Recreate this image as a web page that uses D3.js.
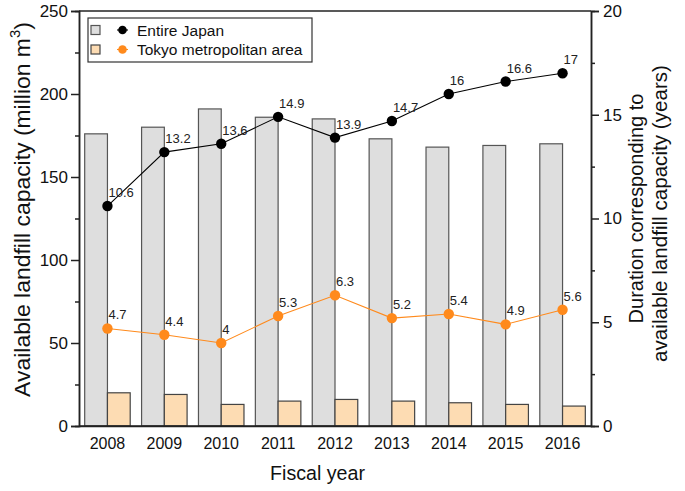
<!DOCTYPE html>
<html><head><meta charset="utf-8">
<script src="https://cdn.jsdelivr.net/npm/d3@7"></script>
<style>body{margin:0;background:#fff;} text{font-family:"Liberation Sans",Arial,sans-serif;}</style>
</head><body><svg id="c" width="685" height="491"></svg>
<script>
const years = ["2008","2009","2010","2011","2012","2013","2014","2015","2016"];
const capJapan = [176,180,191,186,185,173,168,169,170];
const capTokyo = [20,19,13,15,16,15,14,13,12];
const durJapan = [10.6,13.2,13.6,14.9,13.9,14.7,16,16.6,17];
const durTokyo = [4.7,4.4,4,5.3,6.3,5.2,5.4,4.9,5.6];
const leftTicks = [0,50,100,150,200,250];
const rightTicks = [0,5,10,15,20];

const svg = d3.select("#c");
const L=79, R=591, T=11, B=426;
const x = d3.scaleBand().domain(years).range([L,R]).padding(0);
const yL = d3.scaleLinear().domain([0,250]).range([B,T]);
const yR = d3.scaleLinear().domain([0,20]).range([B,T]);
const bw = x.bandwidth()*0.4;
const cx = d => x(d)+x.bandwidth()/2;

// bars
const g = svg.append("g");
g.selectAll(".bj").data(years).enter().append("rect")
 .attr("x",d=>cx(d)-bw).attr("width",bw)
 .attr("y",(d,i)=>yL(capJapan[i])).attr("height",(d,i)=>B-yL(capJapan[i]))
 .attr("fill","#dedede").attr("stroke","#555").attr("stroke-width",1.2);
g.selectAll(".bt").data(years).enter().append("rect")
 .attr("x",d=>cx(d)).attr("width",bw)
 .attr("y",(d,i)=>yL(capTokyo[i])).attr("height",(d,i)=>B-yL(capTokyo[i]))
 .attr("fill","#fddcb3").attr("stroke","#444").attr("stroke-width",1.2);

// lines
const orange="#ff8a1c";
function series(vals,color){
  const line=d3.line().x((d,i)=>cx(years[i])).y(d=>yR(d));
  svg.append("path").datum(vals).attr("d",line).attr("fill","none").attr("stroke",color).attr("stroke-width",1.1);
  svg.selectAll(null).data(vals).enter().append("circle")
    .attr("cx",(d,i)=>cx(years[i])).attr("cy",d=>yR(d)).attr("r",5.2).attr("fill",color);
  svg.selectAll(null).data(vals).enter().append("text")
    .attr("x",(d,i)=>cx(years[i])+1).attr("y",d=>yR(d)-9)
    .attr("font-size",13).attr("fill","#222").text(d=>d);
}
series(durJapan,"#000");
series(durTokyo,orange);

// axes
const minorL=d3.range(25,250,50), minorR=d3.range(2.5,20,5);
const la = svg.append("g").attr("transform",`translate(${L},0)`)
 .call(d3.axisLeft(yL).tickValues(leftTicks).tickSize(8).tickPadding(3));
la.selectAll("text").attr("font-size",17).attr("fill","#111");
const lm = svg.append("g").attr("transform",`translate(${L},0)`).call(d3.axisLeft(yL).tickValues(minorL).tickSize(4).tickFormat(""));
const ra = svg.append("g").attr("transform",`translate(${R},0)`)
 .call(d3.axisRight(yR).tickValues(rightTicks).tickSize(8).tickPadding(4));
ra.selectAll("text").attr("font-size",17).attr("fill","#111");
const rm = svg.append("g").attr("transform",`translate(${R},0)`).call(d3.axisRight(yR).tickValues(minorR).tickSize(4).tickFormat(""));
const ba = svg.append("g").attr("transform",`translate(0,${B})`)
 .call(d3.axisBottom(x).tickSize(0).tickPadding(12));
ba.selectAll("text").attr("font-size",16).attr("fill","#111");
[la,lm,ra,rm,ba].forEach(a=>{a.selectAll("line,path").attr("stroke","#222").attr("stroke-width",1.5);});
svg.append("line").attr("x1",L).attr("x2",R).attr("y1",T).attr("y2",T).attr("stroke","#222").attr("stroke-width",1.5);
svg.append("line").attr("x1",L).attr("x2",R).attr("y1",B).attr("y2",B).attr("stroke","#222").attr("stroke-width",1.5);

// titles: fit to measured target length, centred on given point
function fitTitle(parent, build, target, cxp, cyp, rot){
  const t = parent.append("text").attr("font-size",20).attr("fill","#111").attr("text-anchor","start");
  build(t);
  const w0 = t.node().getComputedTextLength();
  const fs = 20*target/w0;
  t.attr("font-size",fs);
  t.selectAll("tspan.sup").attr("font-size",fs*0.65).attr("dy",-fs*0.4);
  t.selectAll("tspan.after").attr("dy",fs*0.4);
  const w = t.node().getComputedTextLength();
  t.attr("x",-w/2).attr("transform",`translate(${cxp},${cyp}) rotate(${rot})`);
  return t;
}
fitTitle(svg, t=>t.text("Fiscal year"), 95, 317.5, 480, 0);
fitTitle(svg, t=>{
  t.append("tspan").text("Available landfill capacity (million m");
  t.append("tspan").attr("class","sup").attr("font-size",13).attr("dy",-8).text("3");
  t.append("tspan").attr("class","after").attr("dy",8).text(")");
}, 375, 29.5, 209.5, -90);
fitTitle(svg, t=>t.text("Duration corresponding to"), 230, 643, 208.5, -90);
fitTitle(svg, t=>t.text("available landfill capacity (years)"), 297, 667, 213.5, -90);

// legend
const lg = svg.append("g");
lg.append("rect").attr("x",88).attr("y",18).attr("width",224).attr("height",44).attr("fill","#fff").attr("stroke","#333").attr("stroke-width",1.2);
const items=[{name:"Entire Japan",fill:"#dedede",stroke:"#555",c:"#000"},{name:"Tokyo metropolitan area",fill:"#fddcb3",stroke:"#444",c:orange}];
items.forEach((it,i)=>{
  const yy=30+i*19.5;
  lg.append("rect").attr("x",91).attr("y",yy-4.5).attr("width",9).attr("height",9).attr("fill",it.fill).attr("stroke",it.stroke).attr("stroke-width",1.2);
  lg.append("line").attr("x1",117).attr("x2",128).attr("y1",yy).attr("y2",yy).attr("stroke",it.c).attr("stroke-width",1.1);
  lg.append("circle").attr("cx",122.5).attr("cy",yy).attr("r",4.3).attr("fill",it.c);
  lg.append("text").attr("x",137).attr("y",yy+5.5).attr("font-size",15.5).attr("fill","#111").text(it.name);
});
</script></body></html>
